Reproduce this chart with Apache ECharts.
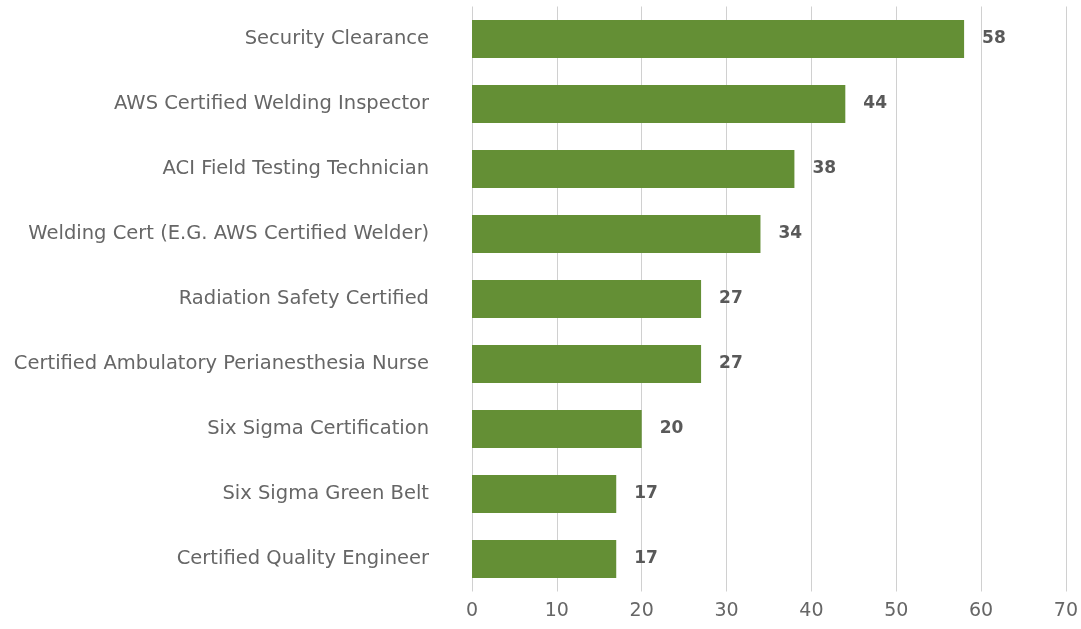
<!DOCTYPE html>
<html>
<head>
<meta charset="utf-8">
<script src="https://cdn.jsdelivr.net/npm/echarts@6/dist/echarts.min.js"></script>
<style>
  html, body { margin: 0; padding: 0; background: #fff; }
  #chart { width: 1081px; height: 629px; }
</style>
</head>
<body>
<div id="chart"></div>
<script>
// categories listed top to bottom
var categories = [
  'Security Clearance',
  'AWS Certified Welding Inspector',
  'ACI Field Testing Technician',
  'Welding Cert (E.G. AWS Certified Welder)',
  'Radiation Safety Certified',
  'Certified Ambulatory Perianesthesia Nurse',
  'Six Sigma Certification',
  'Six Sigma Green Belt',
  'Certified Quality Engineer'
]
var counts = [58, 44, 38, 34, 27, 27, 20, 17, 17]

var chart = echarts.init(document.getElementById('chart'))
var option = {
  animation: false,
  grid: {
    left: 472,
    right: 14,
    top: 6.5,
    bottom: 37.5
  },
  xAxis: {
    type: 'value',
    min: 0,
    max: 70,
    interval: 10,
    axisLine: { show: false },
    axisTick: { show: false },
    splitLine: { lineStyle: { color: '#d0d0d0', width: 1 } },
    axisLabel: {
      color: '#666666',
      fontSize: 19,
      fontFamily: 'DejaVu Sans',
      margin: 10
    }
  },
  yAxis: {
    type: 'category',
    inverse: true,
    data: categories,
    axisLine: { show: false },
    axisTick: { show: false },
    axisLabel: {
      color: '#666666',
      fontSize: 19.5,
      fontFamily: 'DejaVu Sans',
      margin: 43,
      padding: [3, 0, 0, 0]
    }
  },
  series: [{
    type: 'bar',
    data: counts,
    barWidth: 38,
    itemStyle: { color: '#648f35' },
    label: {
      show: true,
      position: 'right',
      distance: 18,
      color: '#595959',
      fontSize: 17,
      fontWeight: 'bold',
      fontFamily: 'DejaVu Sans',
      padding: [3, 0, 0, 0]
    }
  }]
}
chart.setOption(option)
</script>
</body>
</html>
